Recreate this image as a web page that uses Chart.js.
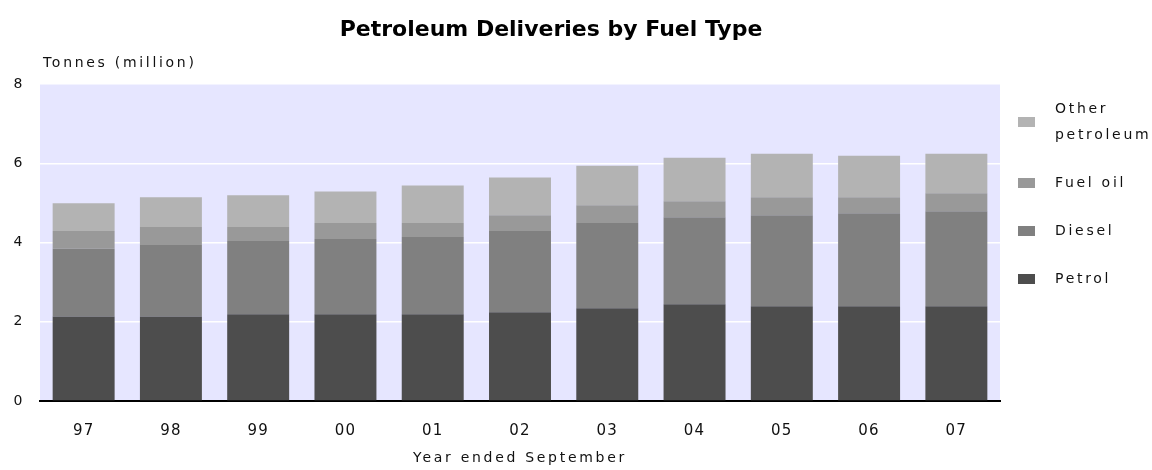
<!DOCTYPE html>
<html><head><meta charset="utf-8">
<script src="https://cdn.jsdelivr.net/npm/chart.js@4/dist/chart.umd.min.js"></script>
<style>html,body{margin:0;padding:0;background:#fff}</style>
</head><body>
<canvas id="c" width="1152" height="470" style="width:1152px;height:470px;display:block"></canvas>
<script>
// ---- data ----
const years = ['97','98','99','00','01','02','03','04','05','06','07'];
const petrol = [2.13,2.13,2.19,2.19,2.19,2.24,2.34,2.44,2.39,2.39,2.39];
const diesel = [1.71,1.81,1.85,1.90,1.95,2.05,2.15,2.20,2.30,2.35,2.40];
const fuelOil = [0.45,0.45,0.35,0.40,0.35,0.40,0.45,0.40,0.45,0.40,0.45];
const otherPetroleum = [0.70,0.75,0.80,0.80,0.95,0.95,1.00,1.10,1.10,1.05,1.00];
const seriesNames = ['Petrol','Diesel','Fuel oil','Other petroleum'];
const legendLines = [['Petrol'],['Diesel'],['Fuel oil'],['Other','petroleum']];
const seriesColors = ['#4d4d4d','#808080','#999999','#b3b3b3'];
const titleText = 'Petroleum Deliveries by Fuel Type';
const yUnitText = 'Tonnes (million)';
const xTitleText = 'Year ended September';
const yTicks = [0,2,4,6,8];

const FONT = "'DejaVu Sans', Verdana, sans-serif";
const SPACING = '2.7px';
const DIGIT_SPACING = '1.2px';
const TXT = '#111';

const spacingPlugin = {
  id: 'spacing',
  beforeLayout(chart){ chart.ctx.letterSpacing = SPACING; },
  beforeDraw(chart){ chart.ctx.letterSpacing = SPACING; },
  afterLayout(chart){
    const xs = chart.scales.x;
    if (xs && !xs._patchedLabels) {
      const orig = xs.drawLabels;
      xs.drawLabels = function(area){
        const ctx = this.ctx;
        const prev = ctx.letterSpacing;
        ctx.letterSpacing = DIGIT_SPACING;
        orig.call(this, area);
        ctx.letterSpacing = prev;
      };
      xs._patchedLabels = true;
    }
  }
};

const bgPlugin = {
  id: 'bg',
  beforeDraw(chart){
    const {ctx, chartArea:a} = chart;
    ctx.save();
    ctx.fillStyle = '#e6e6ff';
    ctx.fillRect(a.left, a.top, a.right - a.left, a.bottom - a.top);
    ctx.restore();
  }
};

const textPlugin = {
  id: 'texts',
  afterDraw(chart){
    const ctx = chart.ctx;
    ctx.save();
    ctx.letterSpacing = '0px';
    ctx.fillStyle = '#000';
    ctx.font = "bold 22px " + FONT;
    ctx.textAlign = 'center';
    ctx.textBaseline = 'middle';
    ctx.fillText(titleText, 551, 30);
    ctx.letterSpacing = SPACING;
    ctx.font = "14px " + FONT;
    ctx.fillStyle = TXT;
    ctx.textAlign = 'left';
    ctx.fillText(yUnitText, 43, 63);
    // legend (reverse order, top = last stacked)
    const lineH = 26, gap = 48;
    let y = 122;
    const order = chart.data.datasets.map((d,i)=>i).reverse();
    order.forEach((di, k) => {
      const ds = chart.data.datasets[di];
      const lines = legendLines[di];
      if (k > 0) {
        const prevLines = legendLines[order[k-1]].length;
        y += gap + (prevLines - 1) * lineH / 2 + (lines.length - 1) * lineH / 2;
      }
      ctx.fillStyle = ds.backgroundColor;
      ctx.fillRect(1018, y - 5, 17, 10);
      ctx.fillStyle = TXT;
      const startY = y - (lines.length - 1) * lineH / 2;
      lines.forEach((t, li) => ctx.fillText(t, 1055, startY + li * lineH));
    });
    ctx.restore();
  }
};

new Chart(document.getElementById('c'), {
  type: 'bar',
  data: {
    labels: years,
    datasets: [
      {label: seriesNames[0], data: petrol, backgroundColor: seriesColors[0]},
      {label: seriesNames[1], data: diesel, backgroundColor: seriesColors[1]},
      {label: seriesNames[2], data: fuelOil, backgroundColor: seriesColors[2]},
      {label: seriesNames[3], data: otherPetroleum, backgroundColor: seriesColors[3]}
    ]
  },
  options: {
    responsive: false,
    animation: false,
    devicePixelRatio: 1,
    layout: {padding: {top: 84, right: 152, left: 0, bottom: 0}},
    datasets: {bar: {barPercentage: 0.71, categoryPercentage: 1, borderWidth: 0}},
    plugins: {legend: {display: false}, title: {display: false}, tooltip: {enabled: false}},
    scales: {
      x: {
        stacked: true,
        grid: {display: false, drawTicks: false},
        border: {display: true, color: '#000', width: 2},
        ticks: {color: TXT, font: {family: FONT, size: 15}, padding: 21, maxRotation: 0},
        title: {display: true, text: xTitleText, color: TXT, font: {family: FONT, size: 14}, padding: {top: 0, bottom: 3}},
        afterFit(s){ s.height = 69; }
      },
      y: {
        stacked: true,
        min: 0, max: 8,
        afterBuildTicks(s){ s.ticks = yTicks.map(v => ({value: v})); },
        grid: {color: '#ffffff', lineWidth: 1.5, drawTicks: false},
        border: {display: false},
        ticks: {color: TXT, font: {family: FONT, size: 14}, padding: 15},
        afterFit(s){ s.width = 40; }
      }
    }
  },
  plugins: [spacingPlugin, bgPlugin, textPlugin]
});
</script>
</body></html>
